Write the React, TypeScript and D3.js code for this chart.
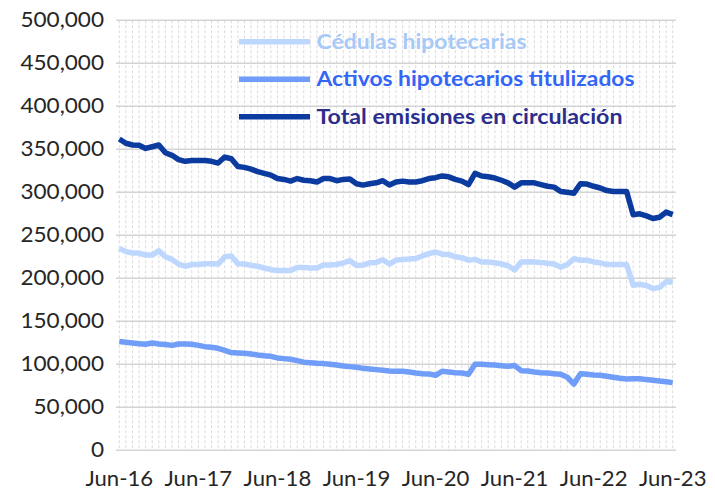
import React from "react";
import * as d3 from "d3";

const months: Date[] = d3.timeMonth.range(new Date(2016, 5, 1), new Date(2023, 6, 1));
const tickLabels = ["Jun-16", "Jun-17", "Jun-18", "Jun-19", "Jun-20", "Jun-21", "Jun-22", "Jun-23"];
const yTicks = [0, 50000, 100000, 150000, 200000, 250000, 300000, 350000, 400000, 450000, 500000];

const cedulas = [
  234.8, 231, 229.4, 229.4, 227, 227, 232, 225, 222, 216.6, 214, 216, 216, 217, 217, 216.6, 225, 226, 217, 216.6,
  215, 214, 212, 210, 209, 209, 209, 212.7, 212.7, 212, 212, 215.4, 215.4, 216, 217.8, 220.5, 215, 215.4, 218, 218.5,
  221.6, 216.6, 221, 222, 222.4, 223, 226, 228.6, 230.6, 228, 227.8, 225, 224, 221, 222, 219, 219, 218, 216.6, 214.6,
  209.6, 219, 219.3, 219, 218.5, 217.4, 216.6, 213, 216, 222.8, 221, 221, 219, 218, 216, 216, 216, 216, 192, 193,
  191.5, 188, 189.5, 196, 195.7,
].map((v) => v * 1000);

const activos = [
  126.4, 125.6, 124.8, 124, 123.3, 124.8, 123.6, 122.9, 122, 123.6, 123.6, 123.3, 122, 120.5, 119.8, 118.6, 116.3, 113.6, 113.2, 112.8,
  112, 110.9, 110, 109.3, 107.4, 106.6, 105.8, 104.3, 102.5, 101.9, 101.2, 100.8, 100, 99.2, 98, 97.3, 96.5, 95.3, 94.6, 93.8,
  93, 92.2, 91.9, 91.9, 91.1, 89.9, 89.1, 88.8, 87.2, 91.9, 91.1, 90.3, 89.9, 88.4, 100, 100, 99.6, 99.2, 98.4, 97.7,
  98.5, 92.6, 92.2, 91.1, 90.3, 89.9, 89.1, 88.4, 84.9, 77.1, 89.1, 88.4, 87.6, 87.2, 86, 84.9, 83.7, 82.9, 83.3, 83.3,
  82.2, 81.4, 80.6, 79.8, 78.7,
].map((v) => v * 1000);

const total = [
  362, 357, 355, 354.7, 351, 353, 355, 346, 343, 338, 336, 337, 337, 337, 336, 334, 341, 339, 330, 329,
  327, 324, 322, 320, 316, 315, 313, 316, 314, 313.5, 312, 316, 316, 313.5, 315, 315.4, 310, 308.4, 310, 311,
  313.5, 308.4, 312, 313, 312, 312, 313.5, 316, 317, 319, 318, 315, 313, 309, 322, 319, 318, 316.6, 314, 311,
  306, 311, 311, 311, 309, 307, 306, 301, 300, 299, 310, 309.6, 307, 305, 302, 301, 301, 300.8, 274, 275,
  272.6, 269.5, 271, 277, 274,
].map((v) => v * 1000);

const seriesNames = ["Cédulas hipotecarias", "Activos hipotecarios titulizados", "Total emisiones en circulación"];

export default function App() {
  const W = 715;
  const H = 490;
  const left = 116;
  const right = 676;
  const top = 20.3;
  const bottom = 450.3;

  const idx = months.map((_, i) => i);
  const x = d3.scalePoint<number>().domain(idx).range([left, right]).padding(0.5);
  const y = d3.scaleLinear().domain([0, 500000]).range([bottom, top]);
  const fmt = d3.format(",");

  const line = d3
    .line<number>()
    .x((_, i) => x(i) as number)
    .y((d) => y(d));

  const series = [
    { name: seriesNames[0], data: cedulas, color: "#bdd7fe", text: "#a6c9f8", len: 210 },
    { name: seriesNames[1], data: activos, color: "#6f9df8", text: "#3366f6", len: 318 },
    { name: seriesNames[2], data: total, color: "#0b3b9f", text: "#2b2e8c", len: 306 },
  ];

  const fontFamily = "Lato, 'Open Sans', sans-serif";
  const legendY = [41.7, 79.3, 116.8];

  return (
    <svg width={W} height={H} style={{ position: "absolute", left: 0, top: 0, background: "#fff" }}>
      <rect x={0} y={0} width={W} height={H} fill="#fff" />
      {idx.map((i) => (
        <line
          key={"v" + i}
          x1={x(i)}
          x2={x(i)}
          y1={top}
          y2={bottom}
          stroke="#dadada"
          strokeWidth={1}
          strokeDasharray="3,2"
        />
      ))}
      {yTicks.map((t) => (
        <line key={"h" + t} x1={left} x2={right} y1={y(t)} y2={y(t)} stroke="#d4d4d4" strokeWidth={1.6} />
      ))}
      {yTicks.map((t) => (
        <g key={"yl" + t} transform={`translate(104,${y(t)}) scale(1.1,1)`}>
          <text dy="0.35em" textAnchor="end" fontFamily={fontFamily} fontSize={20.5} fill="#262626">
            {fmt(t)}
          </text>
        </g>
      ))}
      {tickLabels.map((lab, k) => (
        <g key={"xl" + lab} transform={`translate(${x(k * 12)},486) scale(1.08,1)`}>
          <text textAnchor="middle" fontFamily={fontFamily} fontSize={20.5} fill="#262626">
            {lab}
          </text>
        </g>
      ))}
      {series.map((s) => (
        <path
          key={s.name}
          d={line(s.data) || ""}
          fill="none"
          stroke={s.color}
          strokeWidth={5.5}
          strokeLinejoin="round"
        />
      ))}
      {series.map((s, k) => (
        <g key={"lg" + k}>
          <line x1={239} x2={310} y1={legendY[k]} y2={legendY[k]} stroke={s.color} strokeWidth={5.5} />
          <text
            x={316.5}
            y={legendY[k]}
            dy="0.35em"
            fontFamily={fontFamily}
            fontWeight="bold"
            fontSize={20}
            fill={s.text}
            textLength={s.len}
            lengthAdjust="spacingAndGlyphs"
          >
            {s.name}
          </text>
        </g>
      ))}
    </svg>
  );
}
